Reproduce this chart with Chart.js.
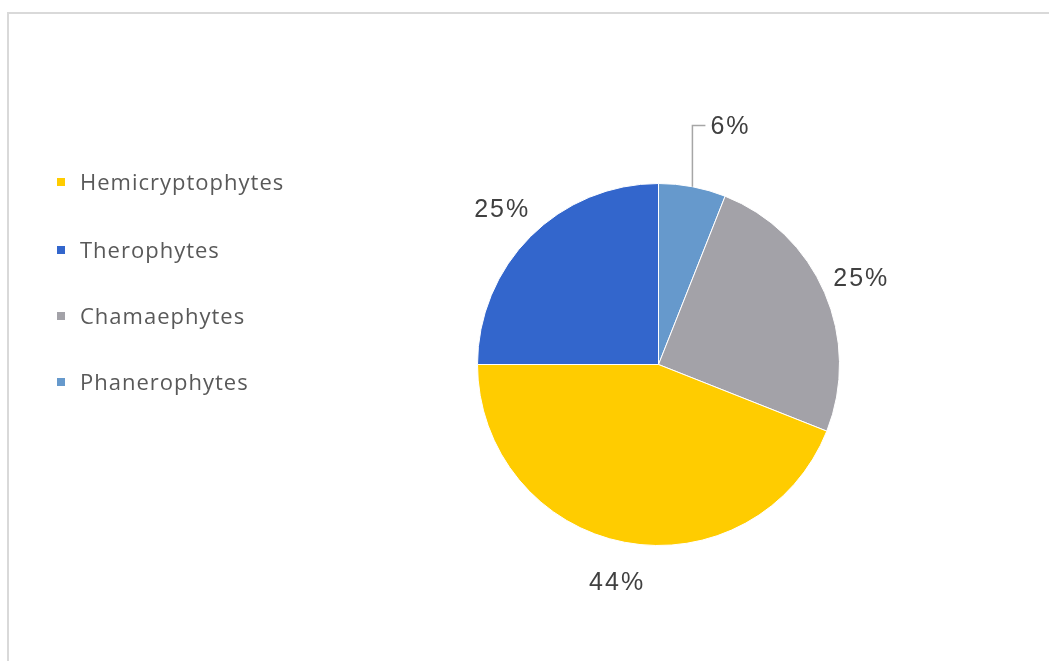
<!DOCTYPE html>
<html>
<head>
<meta charset="utf-8">
<script src="https://cdn.jsdelivr.net/npm/chart.js@4/dist/chart.umd.min.js"></script>
<style>
  html, body { margin: 0; padding: 0; background: #fff; }
  #wrap { position: relative; width: 1049px; height: 661px; overflow: hidden; }
  #frame { position: absolute; left: 7px; top: 12px; width: 1100px; height: 700px;
           border-left: 2px solid #d9d9d9; border-top: 2px solid #d9d9d9; }
  #chart { position: absolute; left: 0; top: 0; }
  #legend { position: absolute; left: 57px; top: 0; font-family: "Open Sans", sans-serif;
            font-size: 22px; letter-spacing: 1px; color: #595959; }
  .item { position: absolute; white-space: nowrap; left: 0; }
  .item span.box { position: absolute; left: 0; width: 8px; height: 8px; top: -4px; }
  .item span.txt { position: absolute; left: 23px; top: 0; transform: translateY(-55%); }
</style>
</head>
<body>
<div id="wrap">
  <div id="frame"></div>
  <canvas id="chart" width="1049" height="661"></canvas>
  <div id="legend"></div>
</div>
<script>
// slices in drawing order, clockwise from 12 o'clock
const categories = ['Phanerophytes', 'Chamaephytes', 'Hemicryptophytes', 'Therophytes'];
const values = [6, 25, 44, 25];
const colors = ['#6699CC', '#A3A2A8', '#FFCC00', '#3366CC'];
// order the legend lists them in
const legendOrder = ['Hemicryptophytes', 'Therophytes', 'Chamaephytes', 'Phanerophytes'];

// percent labels outside the pie, small slices get a leader line
const pctLabels = {
  id: 'pctLabels',
  afterDatasetsDraw(chart) {
    const ctx = chart.ctx;
    const data = chart.data.datasets[0].data;
    const total = data.reduce((a, b) => a + b, 0);
    const meta = chart.getDatasetMeta(0);
    ctx.save();
    ctx.font = '25px "Liberation Sans", Arial, sans-serif';
    ctx.letterSpacing = '2px';
    ctx.fillStyle = '#404040';
    ctx.textBaseline = 'middle';
    meta.data.forEach((arc, i) => {
      const p = arc.getProps(['x', 'y', 'startAngle', 'endAngle', 'outerRadius'], true);
      const mid = (p.startAngle + p.endAngle) / 2;
      const pct = Math.round(data[i] / total * 100);
      const txt = pct + '%';
      if (pct < 10) {
        const sx = p.x + Math.cos(mid) * p.outerRadius;
        const sy = p.y + Math.sin(mid) * p.outerRadius;
        const ey = p.y - p.outerRadius - 58;
        ctx.strokeStyle = '#a6a6a6';
        ctx.lineWidth = 1.5;
        ctx.beginPath();
        ctx.moveTo(sx, sy);
        ctx.lineTo(sx, ey);
        ctx.lineTo(sx + 13, ey);
        ctx.stroke();
        ctx.textAlign = 'left';
        ctx.fillText(txt, sx + 18, ey + 2);
      } else {
        const r = p.outerRadius + 40;
        ctx.textAlign = 'center';
        ctx.fillText(txt, p.x + Math.cos(mid) * r, p.y + Math.sin(mid) * r + 2);
      }
    });
    ctx.restore();
  }
};

const chart = new Chart(document.getElementById('chart').getContext('2d'), {
  type: 'pie',
  data: {
    labels: categories,
    datasets: [{
      data: values,
      backgroundColor: colors,
      borderColor: '#ffffff',
      borderWidth: 1,
    }],
  },
  options: {
    responsive: false,
    animation: false,
    layout: { padding: { left: 477, right: 209, top: 183, bottom: 115 } },
    plugins: {
      legend: { display: false },
      tooltip: { enabled: false },
    },
  },
  plugins: [pctLabels],
});

// html legend built from the chart's own labels
const legendEl = document.getElementById('legend');
const rowY = [182, 250, 316, 382];
legendOrder.forEach((name, k) => {
  const i = chart.data.labels.indexOf(name);
  const item = document.createElement('div');
  item.className = 'item';
  item.style.top = rowY[k] + 'px';
  const box = document.createElement('span');
  box.className = 'box';
  box.style.background = chart.data.datasets[0].backgroundColor[i];
  const txt = document.createElement('span');
  txt.className = 'txt';
  txt.textContent = name;
  item.appendChild(box);
  item.appendChild(txt);
  legendEl.appendChild(item);
});
</script>
</body>
</html>
